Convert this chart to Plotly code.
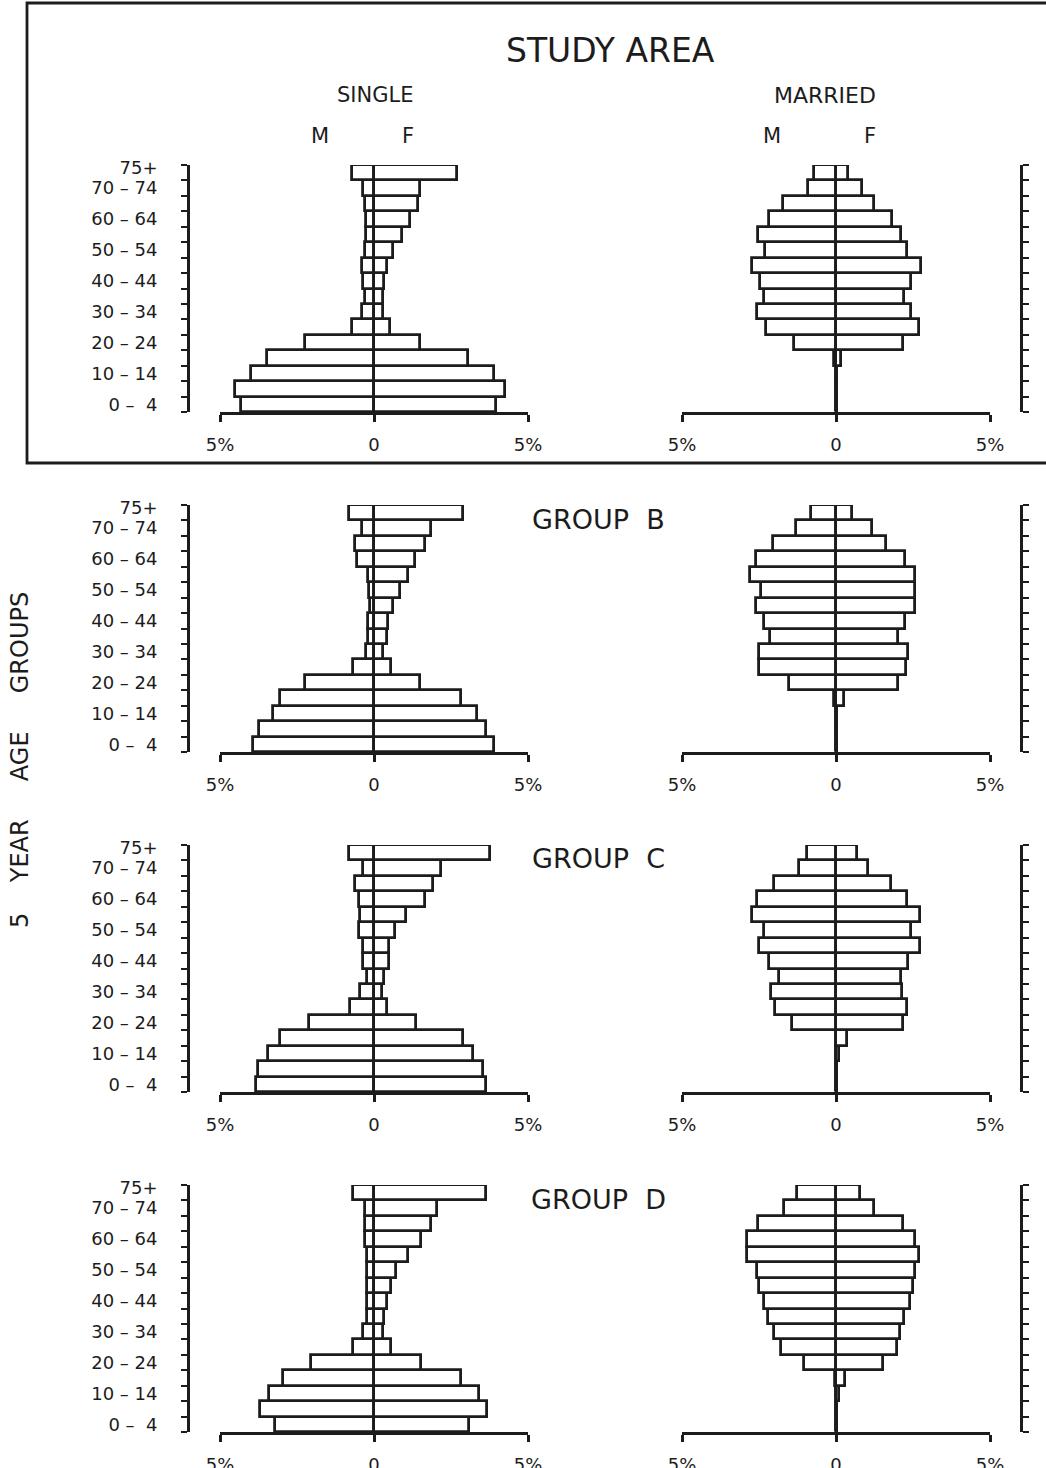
import plotly.graph_objects as go

W, H = 1046, 1468
INK = "#1c1c1c"
FONT = "DejaVu Sans"

# ---- data (percent of population), ordered youngest -> oldest ----
ages = ["0-4", "5-9", "10-14", "15-19", "20-24", "25-29", "30-34", "35-39",
        "40-44", "45-49", "50-54", "55-59", "60-64", "65-69", "70-74", "75+"]
tick_ages = ["0-4", "10-14", "20-24", "30-34", "40-44", "50-54", "60-64", "70-74", "75+"]
tick_text = ["0 –  4", "10 – 14", "20 – 24", "30 – 34", "40 – 44",
             "50 – 54", "60 – 64", "70 – 74", "75+"]
x_tick_vals = [-5, 0, 5]
x_tick_text = ["5%", "0", "5%"]

study_single_m = [4.31, 4.50, 3.98, 3.46, 2.23, 0.73, 0.40, 0.30, 0.37, 0.40, 0.29, 0.26, 0.26, 0.30, 0.37, 0.70]
study_single_f = [3.97, 4.24, 3.89, 3.04, 1.48, 0.52, 0.28, 0.28, 0.31, 0.42, 0.61, 0.91, 1.16, 1.42, 1.48, 2.69]
study_married_m = [0, 0, 0, 0.05, 1.37, 2.27, 2.56, 2.34, 2.48, 2.73, 2.32, 2.54, 2.16, 1.73, 0.92, 0.72]
study_married_f = [0, 0, 0.02, 0.16, 2.16, 2.70, 2.43, 2.21, 2.43, 2.75, 2.32, 2.10, 1.83, 1.24, 0.86, 0.38]

b_single_m = [3.94, 3.75, 3.29, 3.05, 2.24, 0.67, 0.26, 0.18, 0.18, 0.13, 0.15, 0.18, 0.54, 0.62, 0.40, 0.80]
b_single_f = [3.89, 3.65, 3.33, 2.84, 1.49, 0.54, 0.28, 0.41, 0.46, 0.61, 0.84, 1.11, 1.33, 1.65, 1.84, 2.88]
b_married_m = [0, 0, 0, 0.05, 1.53, 2.49, 2.49, 2.13, 2.34, 2.60, 2.42, 2.80, 2.60, 2.06, 1.29, 0.81]
b_married_f = [0, 0, 0.04, 0.27, 2.02, 2.26, 2.34, 2.02, 2.24, 2.58, 2.58, 2.58, 2.24, 1.61, 1.18, 0.52]

c_single_m = [3.83, 3.78, 3.45, 3.05, 2.12, 0.77, 0.45, 0.23, 0.36, 0.36, 0.49, 0.47, 0.49, 0.63, 0.36, 0.80]
c_single_f = [3.65, 3.54, 3.21, 2.89, 1.35, 0.42, 0.27, 0.34, 0.48, 0.50, 0.67, 1.04, 1.64, 1.91, 2.18, 3.76]
c_married_m = [0, 0, 0, 0, 1.44, 1.98, 2.12, 1.85, 2.19, 2.49, 2.33, 2.73, 2.55, 2.01, 1.20, 0.94]
c_married_f = [0, 0, 0.10, 0.35, 2.18, 2.32, 2.13, 2.11, 2.34, 2.72, 2.45, 2.72, 2.29, 1.78, 1.05, 0.68]

d_single_m = [3.22, 3.70, 3.41, 2.97, 2.05, 0.67, 0.35, 0.22, 0.22, 0.22, 0.22, 0.22, 0.30, 0.30, 0.30, 0.67]
d_single_f = [3.08, 3.68, 3.41, 2.81, 1.51, 0.54, 0.30, 0.32, 0.43, 0.56, 0.70, 1.10, 1.51, 1.86, 2.03, 3.62]
d_married_m = [0, 0, 0, 0.02, 1.04, 1.77, 2.01, 2.20, 2.35, 2.49, 2.57, 2.89, 2.89, 2.53, 1.69, 1.28]
d_married_f = [0, 0, 0.10, 0.30, 1.54, 1.97, 2.08, 2.20, 2.40, 2.51, 2.56, 2.70, 2.56, 2.18, 1.24, 0.78]

groups = [
    ("STUDY AREA", study_single_m, study_single_f, study_married_m, study_married_f),
    ("GROUP  B", b_single_m, b_single_f, b_married_m, b_married_f),
    ("GROUP  C", c_single_m, c_single_f, c_married_m, c_married_f),
    ("GROUP  D", d_single_m, d_single_f, d_married_m, d_married_f),
]

# ---- layout geometry (pixels) ----
ROW_TOP0, ROW_H, ROW_STEP = 165, 247, 340
SINGLE_X = (220, 528)
MARRIED_X = (682, 990)
LEFT_AXIS_X = 188
RIGHT_AXIS_X = 1021

ypos = list(range(len(ages)))
# "75+" label is raised slightly like the original lettering
tick_pos = [ages.index(a) + (0.35 if a == "75+" else 0) for a in tick_ages]
bounds = [i - 0.5 for i in range(len(ages) + 1)]


def px(x):
    return x / W


def py(y):
    return 1 - y / H


fig = go.Figure()
layout = dict(
    template="none",
    width=W, height=H, margin=dict(l=0, r=0, t=0, b=0, pad=0),
    paper_bgcolor="white", plot_bgcolor="rgba(0,0,0,0)",
    barmode="overlay", bargap=0, showlegend=False,
    font=dict(family=FONT, color=INK),
)

bar_style = dict(orientation="h", width=1,
                 marker=dict(color="white", line=dict(color=INK, width=2.8)),
                 hoverinfo="skip")

annotations = []
k = 0
for r, (title, sm, sf, mm, mf) in enumerate(groups):
    top = ROW_TOP0 + r * ROW_STEP
    bottom = top + ROW_H
    for panel, (mvals, fvals, xdom) in enumerate([(sm, sf, SINGLE_X), (mm, mf, MARRIED_X)]):
        k += 1
        xa = "x" if k == 1 else f"x{k}"
        ya = "y" if k == 1 else f"y{k}"
        fig.add_trace(go.Bar(x=[-v for v in mvals], y=ypos, xaxis=xa, yaxis=ya, **bar_style))
        fig.add_trace(go.Bar(x=fvals, y=ypos, xaxis=xa, yaxis=ya, **bar_style))
        layout["xaxis" if k == 1 else f"xaxis{k}"] = dict(
            domain=[px(xdom[0]), px(xdom[1])], range=[-5, 5], anchor=ya,
            automargin=False,
            showline=True, linecolor=INK, linewidth=2.8,
            zeroline=True, zerolinecolor=INK, zerolinewidth=2.8,
            showgrid=False, tickmode="array", tickvals=x_tick_vals, ticktext=x_tick_text,
            ticks="outside", ticklen=7, tickwidth=2.6, tickcolor=INK,
            tickfont=dict(size=18, family=FONT, color=INK), ticklabelstandoff=7,
            fixedrange=True,
        )
        single = panel == 0
        layout["yaxis" if k == 1 else f"yaxis{k}"] = dict(
            domain=[py(bottom), py(top)], range=[-0.5, 15.5],
            anchor="free", position=px(LEFT_AXIS_X if single else RIGHT_AXIS_X),
            side="left" if single else "right",
            automargin=False,
            showline=True, linecolor=INK, linewidth=2.8,
            showgrid=False, zeroline=False,
            tickmode="array", tickvals=tick_pos, ticktext=tick_text, ticks="",
            showticklabels=single, ticklabelstandoff=26,
            tickfont=dict(size=18, family=FONT, color=INK),
            minor=dict(tickmode="array", tickvals=bounds, ticks="outside",
                       ticklen=6, tickwidth=2.2, tickcolor=INK),
            fixedrange=True,
        )
    if r == 0:
        annotations.append(dict(text="STUDY AREA", x=px(610), y=py(50)))
        annotations[-1]["font"] = dict(size=33, family=FONT, color=INK)
    else:
        annotations.append(dict(text=title, x=px(598), y=py(top + 14)))
        annotations[-1]["font"] = dict(size=27, family=FONT, color=INK)

small = dict(size=21, family=FONT, color=INK)
annotations += [
    dict(text="SINGLE", x=px(375), y=py(95), font=small),
    dict(text="MARRIED", x=px(825), y=py(95), font=dict(size=22, family=FONT, color=INK)),
    dict(text="M", x=px(320), y=py(136), font=small),
    dict(text="F", x=px(408), y=py(136), font=small),
    dict(text="M", x=px(772), y=py(136), font=small),
    dict(text="F", x=px(870), y=py(136), font=small),
    dict(text="5    YEAR     AGE     GROUPS", x=px(20), y=py(760), textangle=-90,
         font=dict(size=24, family=FONT, color=INK)),
]
for a in annotations:
    a.update(xref="paper", yref="paper", showarrow=False, xanchor="center", yanchor="middle")
layout["annotations"] = annotations
layout["shapes"] = [dict(type="rect", xref="paper", yref="paper",
                         x0=px(27), x1=1.01, y0=py(463), y1=py(3),
                         line=dict(color=INK, width=2.8), fillcolor="rgba(0,0,0,0)")]

fig.update_layout(**layout)
fig.write_html("out.html", config={"displayModeBar": False},
               post_script="document.body.style.margin='0px';document.body.style.overflow='hidden';")
